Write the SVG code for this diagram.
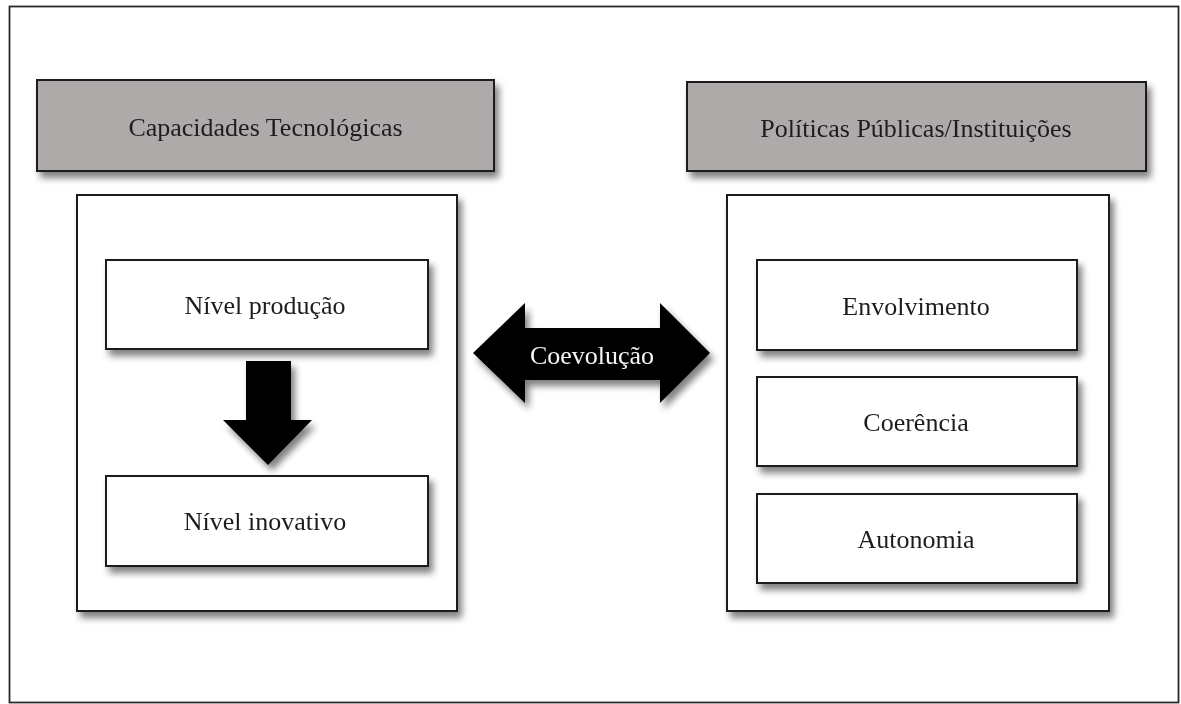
<svg xmlns="http://www.w3.org/2000/svg" width="1181" height="704" viewBox="0 0 1181 704">
  <defs>
    <filter id="shadow" x="-10%" y="-10%" width="130%" height="140%">
      <feGaussianBlur in="SourceAlpha" stdDeviation="3.5"/>
      <feOffset dx="4" dy="6" result="blur"/>
      <feComponentTransfer><feFuncA type="linear" slope="0.5"/></feComponentTransfer>
      <feMerge><feMergeNode/><feMergeNode in="SourceGraphic"/></feMerge>
    </filter>
  </defs>
  <style>
    .box { fill: #ffffff; stroke: #1a1a1a; stroke-width: 2; }
    .head { fill: #aeaaaa; stroke: #1a1a1a; stroke-width: 2; }
    .label { font-family: "Liberation Serif", "Times New Roman", serif; font-size: 26px; fill: #1e1e1e; text-anchor: middle; dominant-baseline: central; }
    .arrow { fill: #000000; }
    .inv { fill: #f4f4f4; font-size: 26px; }
  </style>

  <rect x="0" y="0" width="1181" height="704" fill="#ffffff"/>
  <!-- outer frame -->
  <rect x="9.5" y="6.5" width="1169" height="696" fill="none" stroke="#2a2a2a" stroke-width="1.8"/>

  <!-- left column -->
  <g id="capacidades" filter="url(#shadow)">
    <rect class="head" x="37" y="80" width="457" height="91"/>
    <text class="label" x="265.5" y="127">Capacidades Tecnológicas</text>
  </g>
  <g id="capacidades-container" filter="url(#shadow)">
    <rect class="box" x="77" y="195" width="380" height="416"/>
  </g>
  <g id="nivel-producao" filter="url(#shadow)">
    <rect class="box" x="106" y="260" width="322" height="89"/>
    <text class="label" x="265" y="305">Nível produção</text>
  </g>
  <g id="nivel-inovativo" filter="url(#shadow)">
    <rect class="box" x="106" y="476" width="322" height="90"/>
    <text class="label" x="265" y="521">Nível inovativo</text>
  </g>

  <!-- right column -->
  <g id="politicas" filter="url(#shadow)">
    <rect class="head" x="687" y="82" width="459" height="89"/>
    <text class="label" x="916" y="128">Políticas Públicas/Instituições</text>
  </g>
  <g id="politicas-container" filter="url(#shadow)">
    <rect class="box" x="727" y="195" width="382" height="416"/>
  </g>
  <g id="envolvimento" filter="url(#shadow)">
    <rect class="box" x="757" y="260" width="320" height="90"/>
    <text class="label" x="916" y="306">Envolvimento</text>
  </g>
  <g id="coerencia" filter="url(#shadow)">
    <rect class="box" x="757" y="377" width="320" height="89"/>
    <text class="label" x="916" y="422">Coerência</text>
  </g>
  <g id="autonomia" filter="url(#shadow)">
    <rect class="box" x="757" y="494" width="320" height="89"/>
    <text class="label" x="916" y="539">Autonomia</text>
  </g>

  <!-- connectors -->
  <g id="connectors">
    <g id="down-arrow" filter="url(#shadow)">
      <polygon class="arrow" points="246,361 291,361 291,420 312,420 268,465 223,420 246,420"/>
    </g>
    <g id="coevolucao" filter="url(#shadow)">
      <polygon class="arrow" points="473,353 525,303 525,328 660,328 660,303 710,353 660,403 660,380 525,380 525,403"/>
      <text class="label inv" x="592" y="355">Coevolução</text>
    </g>
  </g>
</svg>
